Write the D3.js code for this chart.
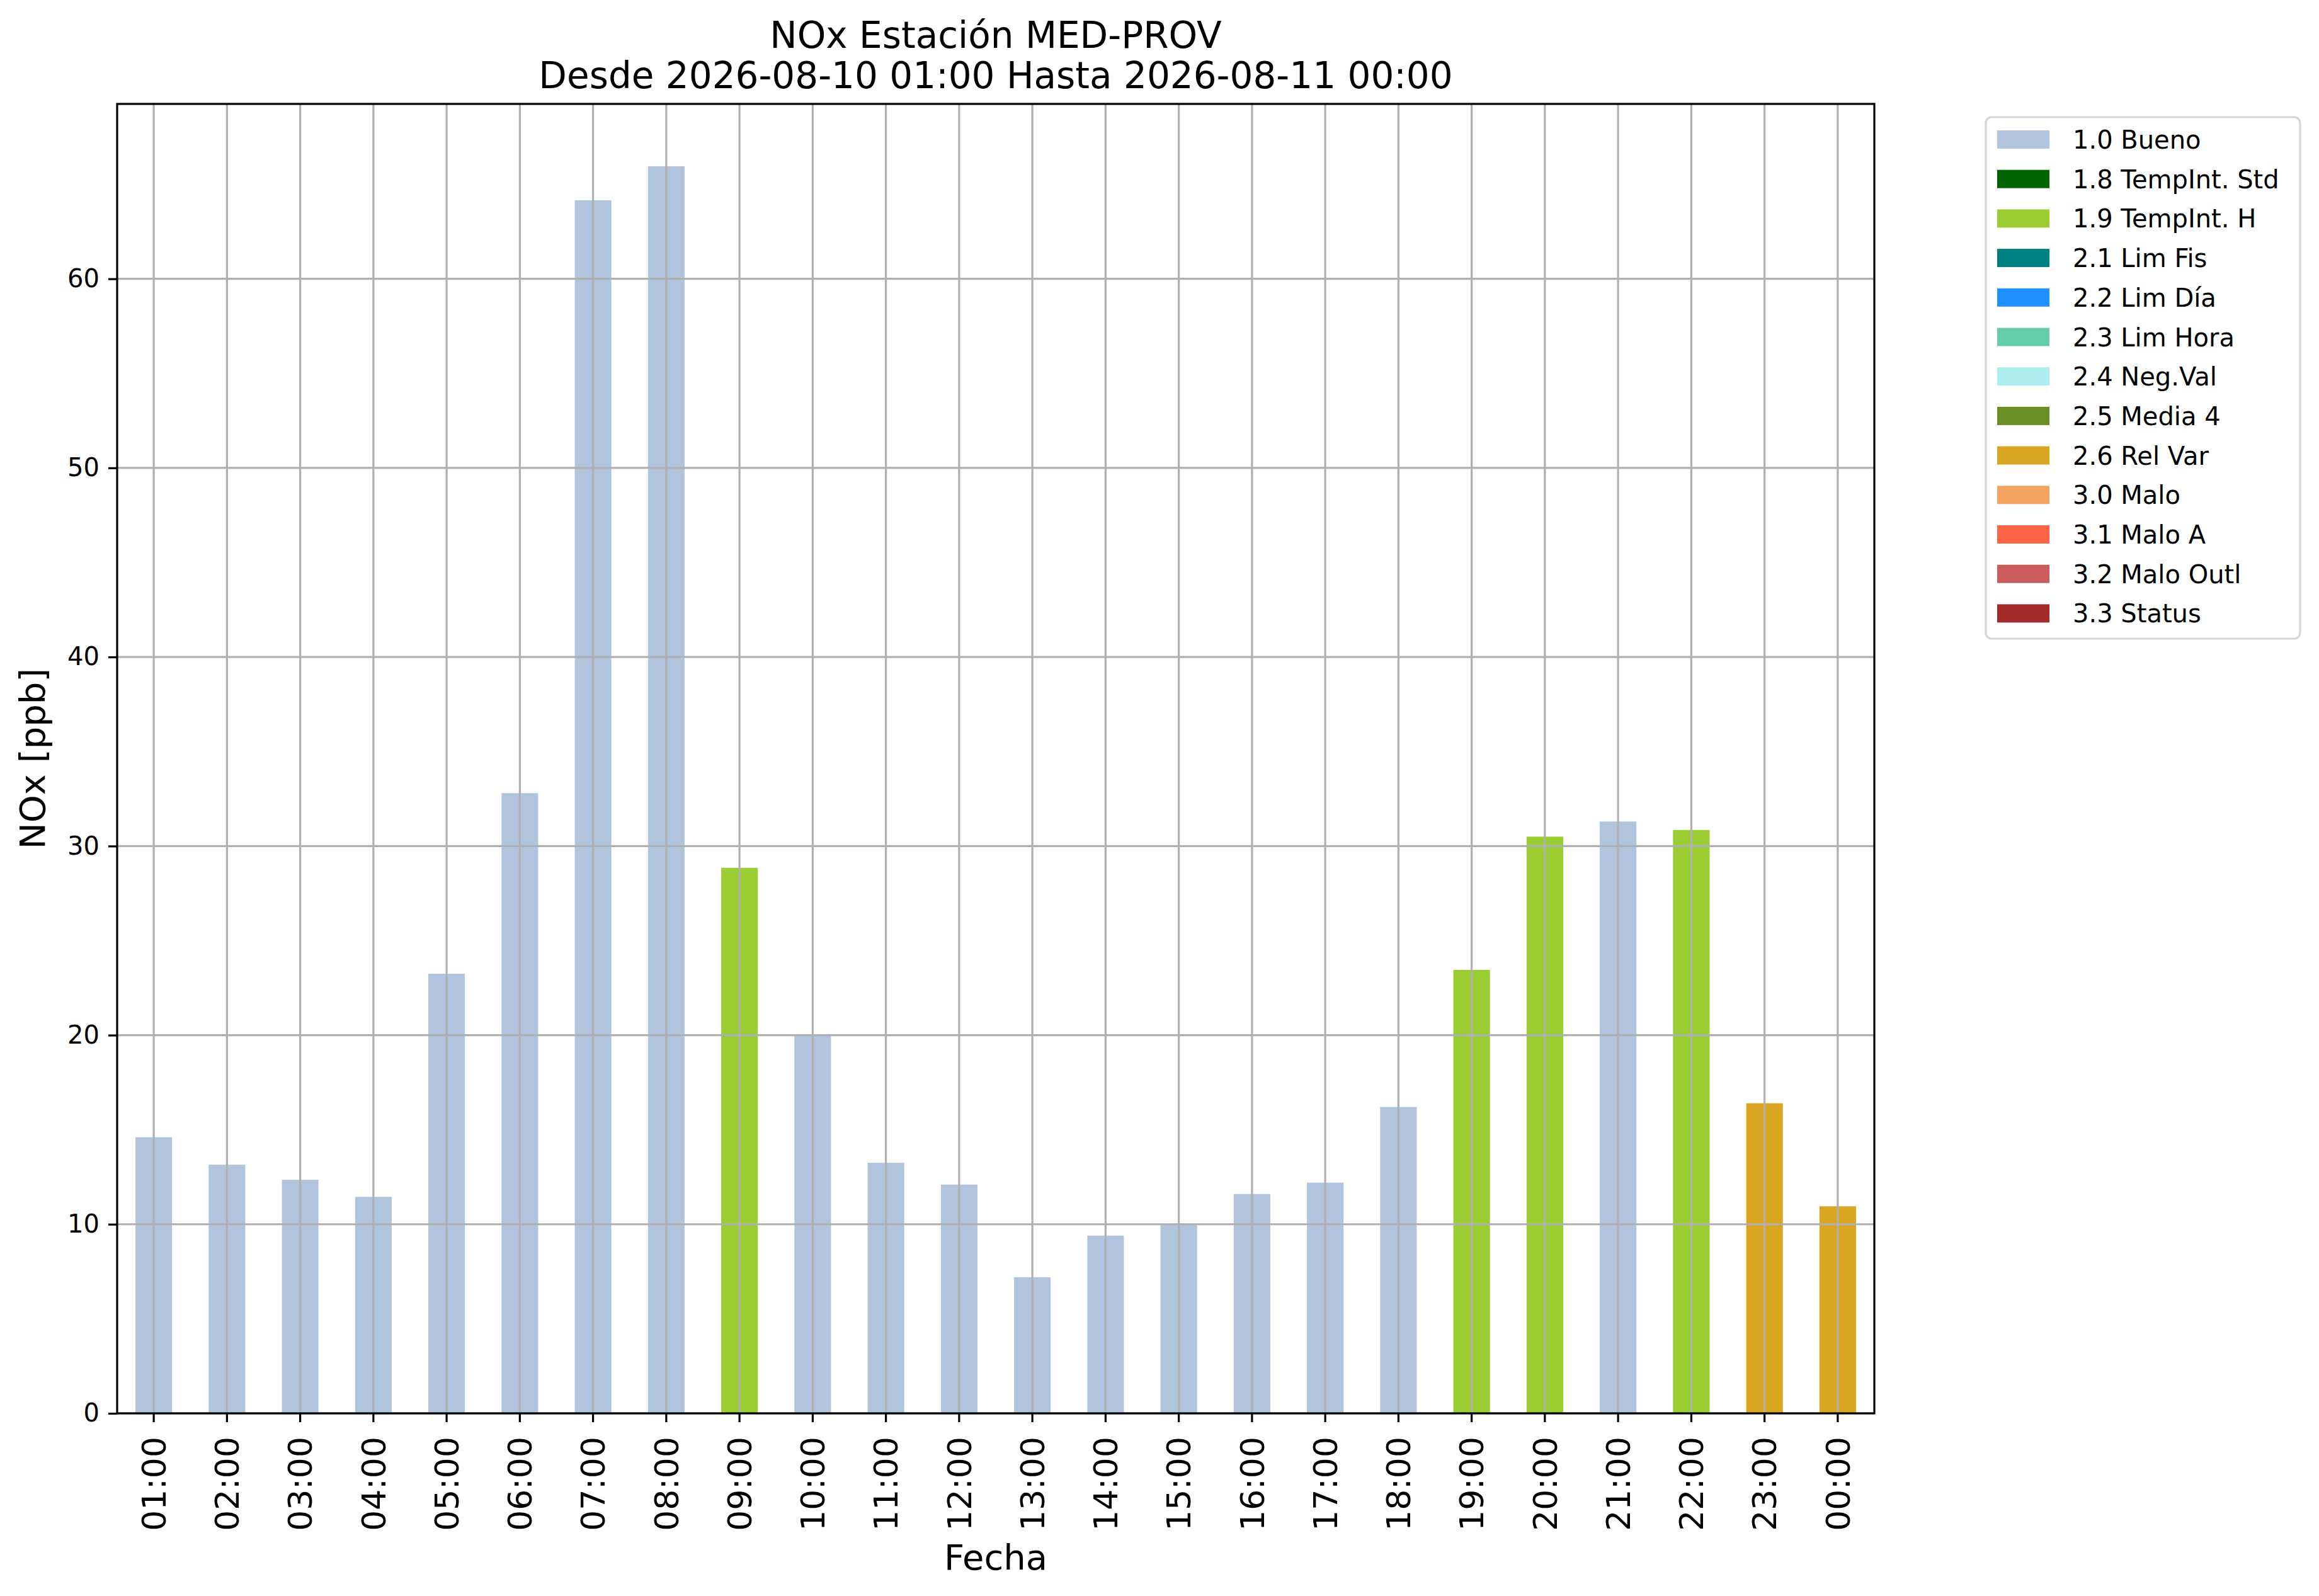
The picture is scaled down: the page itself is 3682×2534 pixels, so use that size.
<!DOCTYPE html>
<html>
<head>
<meta charset="utf-8">
<script src="https://cdn.jsdelivr.net/npm/d3@7"></script>
<style>
  body { margin: 0; background: #fff; }
  text { font-family: "DejaVu Sans", sans-serif; fill: #000; }
</style>
</head>
<body>
<script>
//NOx hourly bars coloured by validation flag

var hours = ['01:00','02:00','03:00','04:00','05:00','06:00','07:00','08:00',
             '09:00','10:00','11:00','12:00','13:00','14:00','15:00','16:00',
             '17:00','18:00','19:00','20:00','21:00','22:00','23:00','00:00'];
var nox = [14.6, 13.15, 12.35, 11.45, 23.25, 32.8, 64.15, 65.95,
           28.85, 20.0, 13.25, 12.1, 7.2, 9.4, 10.0, 11.6,
           12.2, 16.2, 23.45, 30.5, 31.3, 30.85, 16.4, 10.95];
var flags = ['1.0','1.0','1.0','1.0','1.0','1.0','1.0','1.0',
             '1.9','1.0','1.0','1.0','1.0','1.0','1.0','1.0',
             '1.0','1.0','1.9','1.9','1.0','1.9','2.6','2.6'];

var flagCodes = ['1.0','1.8','1.9','2.1','2.2','2.3','2.4','2.5','2.6','3.0','3.1','3.2','3.3'];
var flagNames = ['1.0 Bueno','1.8 TempInt. Std','1.9 TempInt. H','2.1 Lim Fis','2.2 Lim Día',
                 '2.3 Lim Hora','2.4 Neg.Val','2.5 Media 4','2.6 Rel Var','3.0 Malo',
                 '3.1 Malo A','3.2 Malo Outl','3.3 Status'];
var flagColors = ['lightsteelblue','darkgreen','yellowgreen','teal','dodgerblue',
                  'mediumaquamarine','paleturquoise','olivedrab','goldenrod','sandybrown',
                  'tomato','indianred','brown'];
var yTicks = [0, 10, 20, 30, 40, 50, 60];

//pluggable layout
var width = 3682,
    height = 2534,
    plotLeft = 186,
    plotRight = 2976,
    plotTop = 165,
    plotBottom = 2244,
    midX = (plotLeft + plotRight) / 2;

var data = hours.map(function(h, i){ return {hour: h, value: nox[i], flag: flags[i]}; });

var svg = d3.select('body').append('svg')
  .attr('width', width)
  .attr('height', height);

var xScale = d3.scaleBand().domain(hours).range([plotLeft, plotRight])
  .paddingInner(0.5).paddingOuter(0.25);
var yScale = d3.scaleLinear()
  .domain([0, d3.max(nox) * 1.05])
  .range([plotBottom, plotTop]);
var colorScale = d3.scaleOrdinal().domain(flagCodes).range(flagColors);

//bars
svg.append('g').selectAll('rect').data(data).enter().append('rect')
  .attr('x', function(d){ return xScale(d.hour); })
  .attr('y', function(d){ return yScale(d.value); })
  .attr('width', xScale.bandwidth())
  .attr('height', function(d){ return plotBottom - yScale(d.value); })
  .attr('fill', function(d){ return colorScale(d.flag); });

//grid on top of the bars, like matplotlib
var grid = svg.append('g').attr('stroke', '#b0b0b0').attr('stroke-width', 3.2);
grid.selectAll('.vg').data(hours).enter().append('line')
  .attr('x1', function(d){ return xScale(d) + xScale.bandwidth() / 2; })
  .attr('x2', function(d){ return xScale(d) + xScale.bandwidth() / 2; })
  .attr('y1', plotTop).attr('y2', plotBottom);
grid.selectAll('.hg').data(yTicks).enter().append('line')
  .attr('x1', plotLeft).attr('x2', plotRight)
  .attr('y1', function(d){ return yScale(d); })
  .attr('y2', function(d){ return yScale(d); });

//axes
var xAxis = svg.append('g')
  .attr('transform', 'translate(0,' + plotBottom + ')')
  .call(d3.axisBottom(xScale).tickSize(14).tickSizeOuter(0));
xAxis.selectAll('text')
  .attr('transform', 'rotate(-90)')
  .attr('x', -37).attr('y', 0).attr('dy', '0.36em')
  .attr('text-anchor', 'end')
  .style('font-size', '52px');

var yAxis = svg.append('g')
  .attr('transform', 'translate(' + plotLeft + ',0)')
  .call(d3.axisLeft(yScale).tickValues(yTicks).tickSize(14).tickPadding(14).tickSizeOuter(0));
yAxis.selectAll('text').style('font-size', '40px');

svg.selectAll('.domain').remove();
svg.selectAll('.tick line').attr('stroke', '#000').attr('stroke-width', 3.2);

svg.append('rect')
  .attr('x', plotLeft).attr('y', plotTop)
  .attr('width', plotRight - plotLeft).attr('height', plotBottom - plotTop)
  .attr('fill', 'none').attr('stroke', '#000').attr('stroke-width', 3.2);

//titles and labels
svg.append('text').attr('x', midX).attr('y', 76)
  .attr('text-anchor', 'middle').style('font-size', '58px')
  .text('NOx Estación MED-PROV');
svg.append('text').attr('x', midX).attr('y', 140)
  .attr('text-anchor', 'middle').style('font-size', '58px')
  .text('Desde 2026-08-10 01:00 Hasta 2026-08-11 00:00');
svg.append('text').attr('x', midX).attr('y', 2492)
  .attr('text-anchor', 'middle').style('font-size', '56px')
  .text('Fecha');
svg.append('text')
  .attr('transform', 'translate(71,' + ((plotTop + plotBottom) / 2) + ') rotate(-90)')
  .attr('text-anchor', 'middle').style('font-size', '56px')
  .text('NOx [ppb]');

//legend
var legend = svg.append('g').attr('transform', 'translate(3153,186)');
legend.append('rect')
  .attr('width', 499).attr('height', 828)
  .attr('rx', 9).attr('ry', 9)
  .attr('fill', '#fff').attr('stroke', '#d6d6d6').attr('stroke-width', 3.2);
var items = legend.selectAll('.item').data(flagNames).enter().append('g')
  .attr('transform', function(d, i){ return 'translate(0,' + (21 + i * 62.7) + ')'; });
items.append('rect')
  .attr('x', 18).attr('width', 83).attr('height', 29)
  .attr('fill', function(d, i){ return flagColors[i]; });
items.append('text')
  .attr('x', 138).attr('y', 29)
  .style('font-size', '40px')
  .text(function(d){ return d; });
</script>
</body>
</html>
